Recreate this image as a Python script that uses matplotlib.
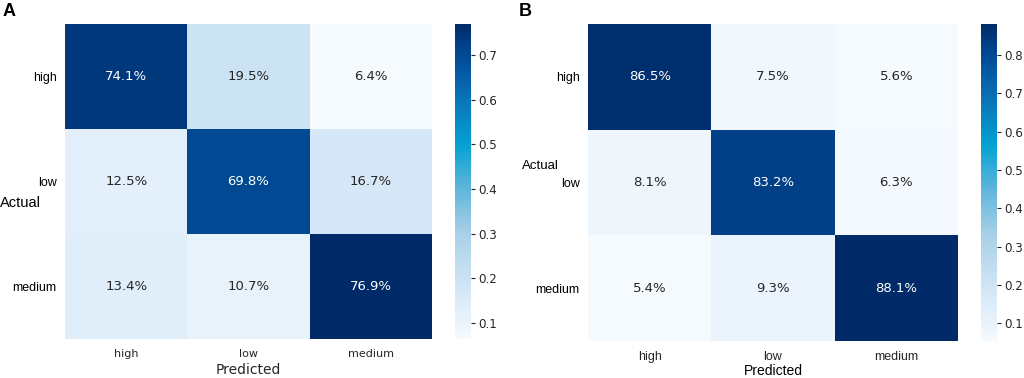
import matplotlib
matplotlib.use("Agg")
import matplotlib.pyplot as plt
import numpy as np
from matplotlib.colors import LinearSegmentedColormap

classes = ["high", "low", "medium"]

# rows = actual, columns = predicted
cm_a = [[0.741, 0.195, 0.064],
        [0.125, 0.698, 0.167],
        [0.134, 0.107, 0.769]]
cm_b = [[0.865, 0.075, 0.056],
        [0.081, 0.832, 0.063],
        [0.054, 0.093, 0.881]]

# blue map with a cyan middle, as in the figure
cmap = LinearSegmentedColormap.from_list("bluecyan", [
    (0.00, "#f5fafe"),
    (0.06, "#e8f2fb"),
    (0.10, "#e0eefa"),
    (0.15, "#d5e7f7"),
    (0.19, "#cbe2f3"),
    (0.34, "#a6d0e7"),
    (0.48, "#5db5da"),
    (0.62, "#02a2d2"),
    (0.76, "#0a74b9"),
    (0.90, "#014a94"),
    (0.94, "#013f87"),
    (1.00, "#002a68"),
])

SANS = "Liberation Sans"
TXT = "#262626"


def draw_cm(fig, rect, cbrect, data, xfont, xsize):
    data = np.array(data)
    ax = fig.add_axes(rect)
    vmin, vmax = data.min(), data.max()
    mesh = ax.pcolormesh(data, cmap=cmap, vmin=vmin, vmax=vmax)
    ax.set_xlim(0, data.shape[1])
    ax.set_ylim(data.shape[0], 0)
    for s in ax.spines.values():
        s.set_visible(False)
    ax.tick_params(length=0)
    ax.set_xticks(np.arange(data.shape[1]) + 0.5)
    ax.set_xticklabels(classes, family=xfont, fontsize=xsize, color=TXT)
    ax.set_yticks(np.arange(data.shape[0]) + 0.5)
    ax.set_yticklabels(classes, family=SANS, fontsize=9, color="black")
    ax.tick_params(axis="x", pad=7)
    ax.tick_params(axis="y", pad=6)
    for i in range(data.shape[0]):
        for j in range(data.shape[1]):
            v = data[i, j]
            c = "white" if (v - vmin) / (vmax - vmin) > 0.6 else TXT
            ax.text(j + 0.5, i + 0.5, f"{v * 100:.1f}%", ha="center", va="center",
                    fontsize=9.5, color=c)
    cax = fig.add_axes(cbrect)
    cb = fig.colorbar(mesh, cax=cax)
    cb.outline.set_visible(False)
    cb.set_ticks(np.arange(0.1, vmax, 0.1))
    cb.ax.tick_params(labelsize=8.6, length=3, width=0.8, pad=2, colors=TXT)
    return ax


fig = plt.figure(figsize=(10.24, 3.78), dpi=100)

ax_a = draw_cm(fig, [0.0635, 0.103, 0.3584, 0.8335], [0.4443, 0.103, 0.0156, 0.8335],
               cm_a, "DejaVu Sans", 8)
ax_a.set_xlabel("Predicted", fontsize=10, color=TXT, labelpad=3)

ax_b = draw_cm(fig, [0.5742, 0.098, 0.3613, 0.8385], [0.958, 0.098, 0.0156, 0.8385],
               cm_b, SANS, 9)
ax_b.set_xlabel("Predicted", family=SANS, fontsize=10, color="black", labelpad=1)

fig.text(0.0, 1 - 203 / 378, "Actual", family=SANS, fontsize=10.5, ha="left", va="center")
fig.text(540 / 1024, 1 - 166 / 378, "Actual", family=SANS, fontsize=9.5, ha="center", va="center")

fig.text(3 / 1024, 1 - 11 / 378, "A", family=SANS, fontsize=13, fontweight="bold", va="center")
fig.text(519 / 1024, 1 - 11 / 378, "B", family=SANS, fontsize=13, fontweight="bold", va="center")

fig.savefig("out.png", dpi=100)
